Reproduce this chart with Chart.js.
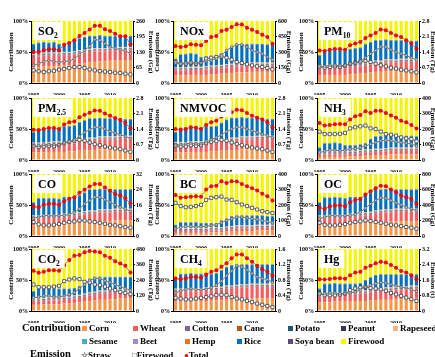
<!DOCTYPE html>
<html><head><meta charset="utf-8">
<script src="https://cdn.jsdelivr.net/npm/chart.js@4.4.1/dist/chart.umd.min.js"></script>
<style>
html,body{margin:0;padding:0;background:#fff;overflow:hidden;}
#wrap{position:relative;width:435px;height:357px;overflow:hidden;font-family:"Liberation Serif",serif;}
#wrap canvas{position:absolute;}
.lg{position:absolute;font-weight:bold;font-size:9px;line-height:10px;white-space:nowrap;color:#000;}
.lh{position:absolute;font-weight:bold;font-size:10.5px;line-height:12px;white-space:nowrap;color:#000;}
.sw{display:inline-block;width:5px;height:5px;margin-right:2px;}
</style></head><body><div id="wrap"></div>
<script>
const years = [1995,1996,1997,1998,1999,2000,2001,2002,2003,2004,2005,2006,2007,2008,2009,2010,2011,2012,2013,2014];

// minor crop shares (%)
const cottonShare   = [1.4,1.4,1.4,1.4,1.3,1.3,1.3,1.3,1.2,1.2,1.2,1.2,1.1,1.1,1.1,1.1,1.0,1.0,1.0,1.0];
const caneShare     = [0.5,0.5,0.5,0.5,0.5,0.5,0.5,0.5,0.5,0.5,0.5,0.5,0.5,0.5,0.5,0.5,0.5,0.5,0.5,0.5];
const potatoShare   = [0.6,0.6,0.6,0.6,0.6,0.6,0.6,0.6,0.6,0.6,0.6,0.6,0.6,0.6,0.6,0.6,0.6,0.6,0.6,0.6];
const peanutShare   = [0.8,0.8,0.8,0.8,0.8,0.8,0.8,0.8,0.8,0.8,0.8,0.8,0.8,0.8,0.8,0.8,0.8,0.8,0.8,0.8];
const rapeseedShare = [1.2,1.2,1.2,1.2,1.3,1.3,1.3,1.3,1.4,1.4,1.4,1.4,1.5,1.5,1.5,1.5,1.6,1.6,1.6,1.6];
const sesameShare   = [0.2,0.2,0.2,0.2,0.2,0.2,0.2,0.2,0.2,0.2,0.2,0.2,0.2,0.2,0.2,0.2,0.2,0.2,0.2,0.2];
const beetShare     = [0.2,0.2,0.2,0.2,0.2,0.2,0.2,0.2,0.2,0.2,0.2,0.2,0.2,0.2,0.2,0.2,0.2,0.2,0.2,0.2];
const hempShare     = [0.3,0.3,0.3,0.3,0.3,0.3,0.3,0.3,0.3,0.3,0.3,0.3,0.3,0.3,0.3,0.3,0.3,0.3,0.3,0.3];
const soyaShare     = [0.8,0.8,0.8,0.8,0.8,0.8,0.8,0.8,0.8,0.8,0.8,0.8,0.8,0.8,0.8,0.8,0.8,0.8,0.8,0.8];

// SO2
const so2Corn  = [25,26,27,27,27,27,28,28,29,31,32,33,34,35,35,36,36,37,37,37];
const so2Wheat = [17,17,17,17,17,17,17,17,17,17,17,17,17,16,16,16,16,16,16,16];
const so2Rice  = [15,16,16,15,16,13,12,15,16,18,19,20,19,20,19,18,18,17,17,17];
const so2Fire  = [37,35,34,35,34,37,37,34,32,28,26,24,24,23,24,24,24,24,24,24];
const so2Total = [130,130,137,142,142,137,160,168,179,197,210,224,240,240,225,218,207,196,196,162];
const so2Straw = [74,81,91,95,91,87,91,92,102,119,137,154,182,179,165,151,145,140,135,123];
const so2Wood  = [53,49,46,49,51,56,59,63,67,67,63,57,53,50,48,46,43,42,39,36];
// NOx
const noxCorn  = [12,12,12,13,13,13,13,14,14,15,16,16,17,17,17,18,18,18,18,18];
const noxWheat = [8,8,8,8,8,8,9,9,9,9,9,10,10,10,10,10,10,10,10,10];
const noxRice  = [13,20,21,21,20,15,15,14,15,18,22,26,29,30,30,29,29,29,28,28];
const noxFire  = [61,54,53,52,53,58,57,57,56,52,47,42,38,37,37,37,37,37,38,38];
const noxTotal = [358,348,355,374,371,365,406,445,455,503,516,542,568,565,535,516,494,468,445,381];
const noxStraw = [194,187,194,200,194,194,213,219,235,268,316,348,371,371,348,316,300,284,252,226];
const noxWood  = [203,187,187,194,187,194,235,245,252,258,245,226,203,194,181,171,161,155,145,132];
// PM10
const pm10Corn  = [12,12,13,13,13,13,14,14,15,16,17,18,18,19,19,19,20,20,20,20];
const pm10Wheat = [11,11,11,11,11,11,12,12,12,12,13,13,13,14,14,14,14,14,14,14];
const pm10Rice  = [16,23,23,23,23,22,23,24,24,29,30,32,32,31,30,30,29,29,28,28];
const pm10Fire  = [55,48,47,47,47,48,45,44,43,37,34,31,31,30,31,31,31,31,32,32];
const pm10Total = [1.47,1.45,1.5,1.53,1.53,1.5,1.7,1.78,1.85,2.03,2.15,2.26,2.42,2.38,2.26,2.15,2.08,1.93,1.78,1.55];
const pm10Straw = [0.72,0.75,0.8,0.8,0.78,0.8,0.87,0.9,1.0,1.14,1.32,1.47,1.63,1.63,1.5,1.4,1.32,1.25,1.14,1.05];
const pm10Wood  = [0.75,0.69,0.72,0.75,0.72,0.78,0.87,0.9,0.96,1.0,0.95,0.87,0.8,0.75,0.69,0.65,0.6,0.57,0.53,0.48];
// PM2.5
const pm25Corn  = [12,12,12,13,13,13,13,14,14,15,15,16,16,17,17,17,17,17,17,17];
const pm25Wheat = [11,11,11,11,12,12,12,13,13,14,14,15,15,16,16,16,16,17,17,17];
const pm25Rice  = [16,22,23,22,21,20,23,22,23,26,29,30,30,29,28,28,28,27,26,26];
const pm25Fire  = [55,49,48,48,48,49,46,45,44,39,36,33,33,32,33,33,33,33,34,34];
const pm25Total = [1.37,1.34,1.4,1.45,1.45,1.4,1.6,1.71,1.74,1.93,2.04,2.13,2.24,2.22,2.1,2.0,1.9,1.81,1.67,1.43];
const pm25Straw = [0.61,0.64,0.69,0.7,0.69,0.7,0.79,0.84,0.91,1.07,1.25,1.37,1.48,1.48,1.4,1.29,1.22,1.14,1.07,0.97];
const pm25Wood  = [0.64,0.58,0.61,0.64,0.62,0.67,0.76,0.82,0.87,0.91,0.87,0.79,0.71,0.67,0.61,0.56,0.52,0.49,0.43,0.37];
// NMVOC
const nmvocCorn  = [12,12,12,13,13,13,13,14,14,15,15,16,16,17,17,17,17,17,17,17];
const nmvocWheat = [12,12,12,12,12,12,13,13,13,14,14,15,15,16,16,16,17,17,17,17];
const nmvocRice  = [15,22,22,22,21,21,22,21,22,25,30,31,31,30,29,29,28,27,26,26];
const nmvocFire  = [55,48,48,47,48,48,46,46,45,40,35,32,32,31,32,32,32,33,34,34];
const nmvocTotal = [1.4,1.37,1.4,1.48,1.46,1.4,1.58,1.71,1.77,1.96,2.04,2.16,2.27,2.25,2.12,2.0,1.91,1.83,1.7,1.48];
const nmvocStraw = [0.67,0.7,0.73,0.76,0.73,0.73,0.82,0.91,1.02,1.13,1.28,1.4,1.48,1.48,1.4,1.32,1.25,1.17,1.1,1.02];
const nmvocWood  = [0.64,0.61,0.61,0.67,0.64,0.67,0.76,0.82,0.85,0.91,0.87,0.79,0.73,0.67,0.61,0.56,0.52,0.49,0.43,0.37];
// NH3
const nh3Corn  = [5,5,5,5,5,5,6,6,6,7,7,8,8,8,9,9,9,9,9,9];
const nh3Wheat = [4,4,4,4,4,4,4,4,5,5,5,5,5,6,6,6,6,6,6,6];
const nh3Rice  = [5,12,12,13,12,9,8,8,8,9,16,19,20,20,18,18,18,18,18,17];
const nh3Fire  = [80,73,73,72,73,76,76,76,75,73,66,62,61,60,61,61,61,61,61,62];
const nh3Total = [239,222,226,230,233,230,261,283,291,315,304,317,317,304,287,272,254,243,226,204];
const nh3Straw = [48,57,63,63,59,63,70,74,80,91,102,113,124,128,124,117,113,109,104,91];
const nh3Wood  = [183,167,167,167,169,174,204,211,217,222,204,200,183,167,163,157,146,139,135,120];
// CO
const coCorn  = [17,17,18,18,18,18,19,19,20,21,22,23,23,24,24,24,25,25,25,25];
const coWheat = [11,11,11,11,11,11,12,12,12,12,13,13,13,14,14,14,14,14,14,14];
const coRice  = [20,27,26,26,26,25,26,26,25,27,29,33,33,32,31,31,30,30,30,30];
const coFire  = [46,39,39,39,39,40,37,37,37,34,30,25,25,24,25,25,25,25,25,25];
const coTotal = [15.2,14.9,16.1,16.6,16.6,16.1,18,19.2,20,22.3,23.9,25.6,26.9,26.9,25,23.4,21.7,20.9,19.5,16.9];
const coStraw = [9.2,9.8,10.6,10.6,10.3,10.6,10.6,11.1,12.3,14,16.6,18.3,20,20,18.7,17.5,16.1,14.9,14,12.8];
const coWood  = [7.2,6,5.5,5.5,5.8,6.2,6.8,7.2,7.5,8,8,7.5,7.2,6.8,6.3,5.8,5.5,5.1,4.6,4.3];
// BC
const bcCorn  = [5,5,5,5,5,5,5,6,6,6,7,7,8,8,8,8,9,9,9,9];
const bcWheat = [3,3,3,3,3,3,3,3,3,3,3,4,4,4,4,4,4,4,4,4];
const bcRice  = [4,8,8,8,8,7,7,6,6,10,12,15,15,15,15,15,14,14,13,13];
const bcFire  = [82,78,78,78,78,79,79,79,79,75,72,68,67,67,67,67,67,67,68,68];
const bcTotal = [265,246,250,254,256,254,300,321,325,353,342,353,351,336,321,308,293,272,257,229];
const bcStraw = [47,56,62,62,58,60,62,68,73,86,100,111,122,122,116,111,107,100,94,86];
const bcWood  = [214,193,186,188,193,201,233,246,250,254,235,233,218,203,193,182,171,160,154,148];
// OC
const ocCorn  = [17,17,18,18,18,18,19,19,20,20,21,22,23,23,23,24,24,24,24,24];
const ocWheat = [11,11,11,11,11,11,12,12,12,13,13,14,14,15,15,15,15,15,15,15];
const ocRice  = [20,28,27,28,27,26,26,26,25,27,30,33,32,32,31,30,30,30,30,30];
const ocFire  = [46,38,38,37,38,39,37,37,37,34,30,25,25,24,25,25,25,25,25,25];
const ocTotal = [364,351,381,394,398,385,436,466,479,535,578,616,650,642,599,565,522,500,479,415];
const ocStraw = [222,244,265,265,257,265,265,278,308,359,415,458,492,488,458,428,402,372,351,329];
const ocWood  = [171,145,137,137,145,154,171,180,188,201,193,180,171,158,145,137,128,116,107,94];
// CO2
const co2Corn  = [10,10,11,11,11,11,12,12,13,14,15,16,17,18,18,19,19,20,20,20];
const co2Wheat = [5,5,5,6,6,6,6,6,7,7,8,9,9,10,10,10,10,10,10,10];
const co2Rice  = [11,16,15,15,14,13,12,12,11,13,17,21,23,21,21,20,20,19,19,19];
const co2Fire  = [68,63,63,62,63,64,64,64,63,60,54,48,45,45,45,45,45,45,45,45];
const co2Total = [311,296,304,316,316,311,355,394,428,433,454,464,460,454,428,412,386,368,350,298];
const co2Straw = [104,109,117,117,109,109,117,127,143,174,205,239,252,252,234,221,205,189,174,161];
const co2Wood  = [205,184,184,184,189,195,231,244,252,247,226,221,205,200,189,174,161,148,140,130];
// CH4
const ch4Corn  = [15,15,15,16,16,16,16,17,17,17,18,18,19,19,19,20,20,20,20,20];
const ch4Wheat = [16,16,16,16,16,16,17,17,17,17,18,18,18,19,19,19,19,19,19,19];
const ch4Rice  = [18,23,23,23,22,22,21,20,21,26,29,32,32,31,31,30,30,30,30,30];
const ch4Fire  = [45,40,40,39,40,40,40,40,39,34,29,26,25,25,25,25,25,25,25,25];
const ch4Total = [0.84,0.82,0.84,0.88,0.88,0.86,0.94,1.01,1.05,1.14,1.23,1.36,1.46,1.46,1.36,1.27,1.17,1.08,1.01,0.91];
const ch4Straw = [0.47,0.52,0.56,0.58,0.56,0.55,0.56,0.6,0.67,0.77,0.91,1.03,1.17,1.14,1.06,0.97,0.88,0.84,0.81,0.74];
const ch4Wood  = [0.34,0.32,0.3,0.3,0.32,0.34,0.36,0.38,0.41,0.42,0.41,0.36,0.32,0.3,0.26,0.23,0.19,0.16,0.13,0.1];
// Hg
const hgCorn  = [14,14,14,15,15,15,15,16,16,16,17,17,18,18,18,19,19,19,20,20];
const hgWheat = [9,10,10,10,10,11,11,11,12,12,13,14,14,15,15,15,15,16,16,16];
const hgRice  = [7,14,14,14,13,12,12,11,11,16,18,21,21,20,20,19,19,18,17,17];
const hgFire  = [64,56,56,55,56,56,56,56,55,50,46,42,41,41,41,41,41,41,41,41];
const hgTotal = [1.64,1.62,1.65,1.69,1.69,1.67,1.85,1.99,2.02,2.23,2.33,2.46,2.54,2.5,2.37,2.23,2.06,1.99,1.85,1.64];
const hgStraw = [0.85,0.9,0.93,0.93,0.9,0.9,0.93,0.98,1.1,1.24,1.33,1.42,1.47,1.45,1.37,1.3,1.24,1.19,1.1,1.02];
const hgWood  = [0.9,0.81,0.81,0.81,0.85,0.9,1.07,1.16,1.21,1.24,1.19,1.16,1.12,1.04,0.93,0.86,0.78,0.69,0.61,0.52];

const panelBase = ['SO','NOx','PM','PM','NMVOC','NH','CO','BC','OC','CO','CH','Hg'];
const panelSub  = ['2','','10','2.5','','3','','','','2','4',''];
const panelUnit = ['Gg','Gg','Tg','Tg','Tg','Gg','Tg','Gg','Gg','Tg','Tg','t'];
const panelMax  = [260,600,2.8,2.8,2.8,400,32,400,800,480,1.6,3.2];
const contribTicks = ['0%','50%','100%'];

const cropNames  = ['Corn','Wheat','Cotton','Cane','Potato','Peanut','Rapeseed','Sesame','Beet','Hemp','Rice','Soya bean','Firewood'];
const cropColors = ['#F79646','#FA5B5B','#8064A2','#B4560F','#215968','#403151','#FAB27E','#4BACC6','#A18DC0','#EE7316','#0070C0','#5F497A','#F5F500'];

const panelData = [
  [so2Corn,so2Wheat,so2Rice,so2Fire,so2Total,so2Straw,so2Wood],
  [noxCorn,noxWheat,noxRice,noxFire,noxTotal,noxStraw,noxWood],
  [pm10Corn,pm10Wheat,pm10Rice,pm10Fire,pm10Total,pm10Straw,pm10Wood],
  [pm25Corn,pm25Wheat,pm25Rice,pm25Fire,pm25Total,pm25Straw,pm25Wood],
  [nmvocCorn,nmvocWheat,nmvocRice,nmvocFire,nmvocTotal,nmvocStraw,nmvocWood],
  [nh3Corn,nh3Wheat,nh3Rice,nh3Fire,nh3Total,nh3Straw,nh3Wood],
  [coCorn,coWheat,coRice,coFire,coTotal,coStraw,coWood],
  [bcCorn,bcWheat,bcRice,bcFire,bcTotal,bcStraw,bcWood],
  [ocCorn,ocWheat,ocRice,ocFire,ocTotal,ocStraw,ocWood],
  [co2Corn,co2Wheat,co2Rice,co2Fire,co2Total,co2Straw,co2Wood],
  [ch4Corn,ch4Wheat,ch4Rice,ch4Fire,ch4Total,ch4Straw,ch4Wood],
  [hgCorn,hgWheat,hgRice,hgFire,hgTotal,hgStraw,hgWood]
];

const FONT = '"Liberation Serif", "Times New Roman", serif';
const wrap = document.getElementById('wrap');

const labelBox = {
  id: 'labelBox',
  afterDatasetsDraw(chart, args, opts) {
    const ctx = chart.ctx, a = chart.chartArea;
    ctx.save();
    ctx.font = 'bold 12px ' + FONT;
    const wb = ctx.measureText(opts.base).width;
    ctx.font = 'bold 7.5px ' + FONT;
    const ws = opts.sub ? ctx.measureText(opts.sub).width : 0;
    ctx.fillStyle = '#fff';
    ctx.fillRect(a.left + 2, a.top + 1, wb + ws + 10, 18);
    ctx.fillStyle = '#000';
    ctx.textBaseline = 'alphabetic';
    ctx.textAlign = 'left';
    ctx.font = 'bold 12px ' + FONT;
    ctx.fillText(opts.base, a.left + 7, a.top + 14);
    if (opts.sub) {
      ctx.font = 'bold 7.5px ' + FONT;
      ctx.fillText(opts.sub, a.left + 7 + wb, a.top + 16.5);
    }
    ctx.restore();
  }
};

const colPlotLeft = [31, 173, 317];
const colL = [24, 20, 20];
const colR = [22, 18, 18];
const rowPlotTop = [21, 98, 174, 249];
const PW = 102, PH = 62, T = 5, B = 12;

for (let p = 0; p < 12; p++) {
  const col = p % 3, row = Math.floor(p / 3);
  const L = colL[col], R = colR[col];
  const cv = document.createElement('canvas');
  const w = L + PW + R, h = T + PH + B;
  cv.width = w; cv.height = h;
  cv.style.left = (colPlotLeft[col] - L) + 'px';
  cv.style.top = (rowPlotTop[row] - T) + 'px';
  cv.style.width = w + 'px'; cv.style.height = h + 'px';
  wrap.appendChild(cv);

  const d = panelData[p];
  // stacking order follows the legend: Corn ... Hemp, Rice, Soya bean, Firewood
  const shares = [d[0], d[1], cottonShare, caneShare, potatoShare, peanutShare, rapeseedShare,
                  sesameShare, beetShare, hempShare, d[2], soyaShare, d[3]];
  const datasets = shares.map((arr, i) => ({
    type: 'bar', label: cropNames[i], data: arr, backgroundColor: cropColors[i],
    borderWidth: 0, yAxisID: 'y', stack: 's', order: 5,
    barPercentage: 0.62, categoryPercentage: 1.0
  }));
  datasets.push({type:'line', label:'Firewood', data:d[6], yAxisID:'y1', order:2,
    borderColor:'#7a7a7a', borderWidth:1, pointStyle:'rect', pointRadius:2.2,
    pointBackgroundColor:'#fff', pointBorderColor:'#404040', pointBorderWidth:0.8, tension:0});
  datasets.push({type:'line', label:'Straw', data:d[5], yAxisID:'y1', order:1,
    borderColor:'#7a7a7a', borderWidth:1, pointStyle:'circle', pointRadius:1.3,
    pointBackgroundColor:'#bbbbbb', pointBorderColor:'#555', pointBorderWidth:0.6, tension:0});
  datasets.push({type:'line', label:'Total', data:d[4], yAxisID:'y1', order:0,
    borderColor:'#8a8a8a', borderWidth:1, pointStyle:'circle', pointRadius:2,
    pointBackgroundColor:'#FF0000', pointBorderColor:'#FF0000', pointBorderWidth:0, tension:0});

  const mx = panelMax[p];
  new Chart(cv, {
    type: 'bar',
    data: { labels: years, datasets },
    plugins: [labelBox],
    options: {
      responsive: false, animation: false, devicePixelRatio: 1,
      layout: { padding: { top: T, left: 0, right: 0, bottom: 0 } },
      plugins: {
        legend: { display: false }, tooltip: { enabled: false },
        labelBox: { base: panelBase[p], sub: panelSub[p] }
      },
      scales: {
        x: {
          stacked: true, offset: true,
          grid: { display: false },
          border: { display: true, color: '#000', width: 1 },
          ticks: {
            autoSkip: false, maxRotation: 0, minRotation: 0, padding: 1,
            color: '#000', font: { family: FONT, size: 6, weight: 'bold' },
            callback: (v, i) => (years[i] % 5 === 0 ? String(years[i]) : '')
          },
          afterFit(s) { s.height = B; }
        },
        y: {
          stacked: true, min: 0, max: 100,
          grid: { display: true, drawOnChartArea: false, tickLength: 2, color: '#000' },
          border: { display: true, color: '#000', width: 1 },
          ticks: {
            stepSize: 50, padding: 1, color: '#000',
            font: { family: FONT, size: 6, weight: 'bold' },
            callback: (v) => contribTicks[Math.round(v / 50)]
          },
          title: { display: true, text: 'Contribution', color: '#000', padding: 0,
            font: { family: FONT, size: 7, weight: 'bold' } },
          afterFit(s) { s.width = L; }
        },
        y1: {
          position: 'right', min: 0, max: mx,
          grid: { display: true, drawOnChartArea: false, tickLength: 2, color: '#000' },
          border: { display: true, color: '#000', width: 1 },
          ticks: {
            stepSize: mx / 4, padding: 1, color: '#000',
            font: { family: FONT, size: 6, weight: 'bold' },
            callback: (v) => String(Math.round(v * 100) / 100)
          },
          title: { display: true, text: 'Emission (' + panelUnit[p] + ')', color: '#000', padding: 0,
            font: { family: FONT, size: 7, weight: 'bold' } },
          afterFit(s) { s.width = R; }
        }
      }
    }
  });
}

// Legend (HTML text)
function addDiv(cls, left, top, html) {
  const el = document.createElement('div');
  el.className = cls; el.style.left = left + 'px'; el.style.top = top + 'px';
  el.innerHTML = html; wrap.appendChild(el);
}
const legendX = [82,133,185,237,288,341,393,82,133,185,237,288,341];
const legendY = [323,323,323,323,323,323,323,336,336,336,336,336,336];
addDiv('lh', 22, 322, 'Contribution');
cropNames.forEach((name, k) => {
  addDiv('lg', legendX[k], legendY[k],
    '<span class="sw" style="background:' + cropColors[k] + '"></span>' + name);
});
addDiv('lh', 30, 348, 'Emission');
addDiv('lg', 81, 350, '<span style="color:#555;font-size:8px">☆</span>Straw');
addDiv('lg', 132, 350, '<span style="color:#333;font-size:8px">□</span>Firewood');
addDiv('lg', 184, 350, '<span style="color:#f00;font-size:8px">●</span>Total');
</script>
</body></html>
